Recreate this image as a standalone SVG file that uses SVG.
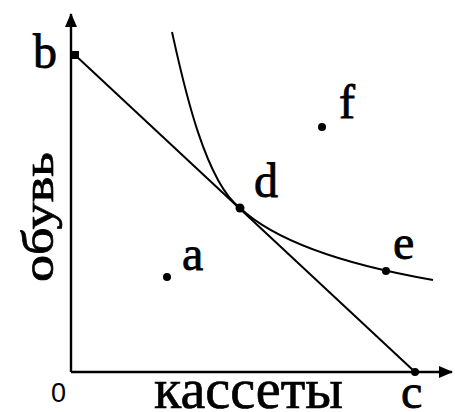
<svg xmlns="http://www.w3.org/2000/svg" width="455" height="412" viewBox="0 0 455 412">
<style>
.ax{stroke:#000;stroke-width:2.4;fill:none}
.ln{stroke:#000;stroke-width:2;fill:none}
.pt{fill:#000}
.lb{font-family:"Liberation Serif","Times New Roman",serif;font-size:48px;fill:#000;stroke:#000;stroke-width:0.8}
.big{font-family:"Liberation Serif","Times New Roman",serif;fill:#000;stroke:#000;stroke-width:0.7}
.zero{font-family:"Liberation Sans",Arial,sans-serif;font-size:27px;fill:#000}
</style>
<defs>
<marker id="arr" viewBox="0 0 14 12" refX="13" refY="6" markerWidth="14" markerHeight="12" markerUnits="userSpaceOnUse" orient="auto">
<path d="M0,0 L14,6 L0,12 Z" fill="#000"/>
</marker>
</defs>
<rect width="455" height="412" fill="#fff"/>
<g id="axes">
<line class="ax" x1="71" y1="372" x2="71" y2="14" marker-end="url(#arr)"/>
<line class="ax" x1="71" y1="372" x2="452" y2="372" marker-end="url(#arr)"/>
</g>
<g id="connectors">
<line id="budget" class="ln" x1="75" y1="55" x2="415" y2="372"/>
<path id="indiff" class="ln" d="M172,32 C181,72 203,180 240,208 C270,236 330,262 433,280"/>
</g>
<g id="node-b"><rect class="pt" x="71" y="51" width="8" height="8"/><text class="lb" x="33" y="68">b</text></g>
<g id="node-c"><circle class="pt" cx="415" cy="372" r="4"/><text class="lb" x="401" y="408">c</text></g>
<g id="node-d"><circle class="pt" cx="240" cy="208" r="4.5"/><text class="lb" x="254" y="197">d</text></g>
<g id="node-a"><circle class="pt" cx="167" cy="277" r="4"/><text class="lb" x="182" y="270">a</text></g>
<g id="node-f"><circle class="pt" cx="322" cy="127" r="4"/><text class="lb" x="339" y="118">f</text></g>
<g id="node-e"><circle class="pt" cx="386" cy="271" r="4"/><text class="lb" x="393" y="259">e</text></g>
<g id="labels">
<text class="zero" x="51" y="402">0</text>
<text class="big" font-size="58" x="154" y="408" textLength="189" lengthAdjust="spacingAndGlyphs">кассеты</text>
<text class="big" font-size="44" transform="translate(53,282) rotate(-90)" textLength="130" lengthAdjust="spacingAndGlyphs">обувь</text>
</g>
</svg>
